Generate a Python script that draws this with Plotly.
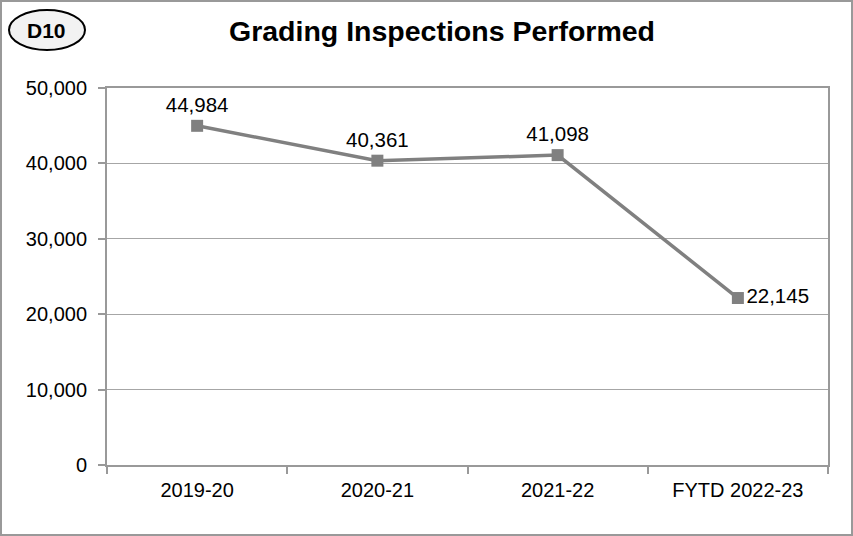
import plotly.graph_objects as go

categories = ["2019-20", "2020-21", "2021-22", "FYTD 2022-23"]
values = [44984, 40361, 41098, 22145]
labels = ["44,984", "40,361", "41,098", "22,145"]
label_pos = ["top center", "top center", "top center", "middle right"]
y_ticks = [0, 10000, 20000, 30000, 40000, 50000]
y_tick_text = ["0", "10,000", "20,000", "30,000", "40,000", "50,000"]

FONT = "Liberation Sans, Arial, sans-serif"
W, H = 853, 536
L, R, T, B = 107, 25, 88, 71
PW, PH = W - L - R, H - T - B


def px(x):
    return (x - L) / PW


def py(y):
    return (H - B - y) / PH


fig = go.Figure()
fig.add_trace(go.Scatter(
    x=categories, y=values, mode="lines+markers+text",
    text=labels, textposition=label_pos,
    textfont=dict(family=FONT, size=20.5, color="black"),
    line=dict(color="#808080", width=3.5),
    marker=dict(symbol="square", size=12, color="#808080"),
    cliponaxis=False, showlegend=False,
))

fig.update_layout(
    width=W, height=H,
    margin=dict(l=L, r=R, t=T, b=B),
    paper_bgcolor="white", plot_bgcolor="white",
    font=dict(family=FONT, size=20, color="black"),
    title=dict(text="<b>Grading Inspections Performed</b>", xref="container", yref="container",
               x=442 / W, xanchor="center", y=1 - 31 / H, yanchor="middle",
               font=dict(family=FONT, size=28.5, color="black")),
    xaxis=dict(type="category", showline=True, linecolor="#999999", linewidth=2, mirror=True,
               ticks="outside", tickson="boundaries", ticklen=7, tickcolor="#999999", tickwidth=2,
               showgrid=False, tickfont=dict(size=20), range=[-0.5, 3.5], ticklabelstandoff=6),
    yaxis=dict(range=[0, 50000], tickvals=y_ticks, ticktext=y_tick_text,
               showline=True, linecolor="#999999", linewidth=2, mirror=True,
               ticks="outside", ticklen=7, tickcolor="#999999", tickwidth=2,
               gridcolor="#a6a6a6", gridwidth=1, tickfont=dict(size=20), zeroline=False,
               ticklabelstandoff=7),
    shapes=[
        dict(type="rect", xref="paper", yref="paper", x0=px(1), x1=px(W - 1), y0=py(H - 1), y1=py(1),
             line=dict(color="#999999", width=2), layer="below"),
        dict(type="circle", xref="paper", yref="paper",
             x0=px(9), x1=px(85), y0=py(50), y1=py(10),
             line=dict(color="black", width=2), fillcolor="#f2f2f2"),
    ],
    annotations=[
        dict(text="<b>D10</b>", xref="paper", yref="paper", x=px(46), y=py(30),
             xanchor="center", yanchor="middle", showarrow=False,
             font=dict(family=FONT, size=21, color="black")),
    ],
)

fig.write_html("out.html", config={"displayModeBar": False},
               post_script="document.body.style.margin='0';")
